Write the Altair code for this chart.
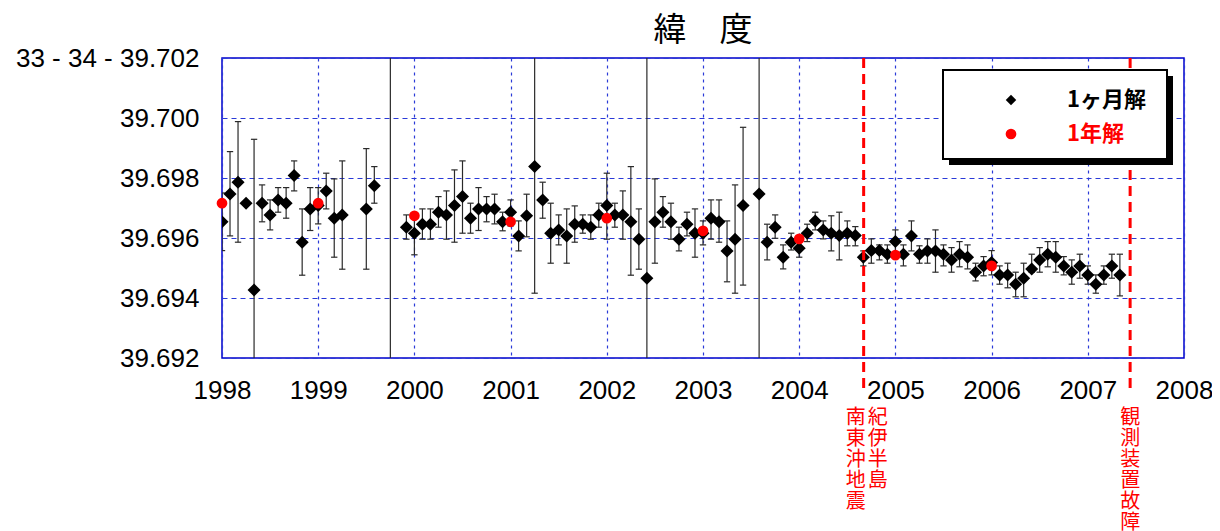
import altair as alt
import pandas as pd

# ---- monthly solutions (month index from Jan 1998) ----
month_index = [0, 1, 2, 3, 4, 5, 6, 7, 8, 9, 10, 11, 12, 13, 14, 15, 18, 19, 21,
               23, 24, 25, 26, 27, 28, 29, 30, 31, 32, 33, 34, 35, 36, 37, 38, 39,
               40, 41, 42, 43, 44, 45, 46, 47, 48, 49, 50, 51, 52, 53, 54, 55, 56,
               57, 58, 59, 60, 61, 62, 63, 64, 65, 67, 68, 69, 70, 71, 72, 73, 74,
               75, 76, 77, 78, 79, 80, 81, 82, 83, 84, 85, 86, 87, 88, 89, 90, 91,
               92, 93, 94, 95, 96, 97, 98, 99, 100, 101, 102, 103, 104, 105, 106,
               107, 108, 109, 110, 111, 112]
month_value = [39.69654, 39.69747, 39.69786, 39.69716, 39.69427, 39.69716, 39.69677,
               39.69727, 39.69716, 39.69808, 39.69586, 39.69697, 39.69708, 39.69757,
               39.69666, 39.69677, 39.69697, 39.69774, None,
               39.69636, 39.69616, 39.69646, 39.69646, 39.69686, 39.69677, 39.69708,
               39.69738, 39.69666, 39.69697, 39.69697, 39.69697, 39.69654, 39.69686,
               39.69607, 39.69674, 39.69838, 39.69727, 39.69616, 39.69627, 39.69607,
               39.69646, 39.69646, 39.69636, 39.69677, 39.69708, 39.69677, 39.69677,
               39.69654, 39.69596, 39.69466, 39.69654, 39.69686, 39.69654, 39.69596,
               39.69646, 39.69616, 39.69616, 39.69666, 39.69654, 39.69557, 39.69596,
               39.69708, 39.69747, 39.69586, 39.69636, 39.69536, 39.69586, 39.69566,
               39.69616, 39.69657, 39.69627, 39.69616, 39.69608, 39.69616, 39.69608,
               39.69536, 39.69558, 39.69558, 39.69546, 39.69588, 39.69546, 39.69607,
               39.69546, 39.69557, 39.69557, 39.69546, 39.69527, 39.69546, 39.69536,
               39.69486, 39.69507, 39.69518, 39.69477, 39.69477, 39.69446, 39.69466,
               39.69497, 39.69527, 39.69546, 39.69536, 39.69507, 39.69486, 39.69507,
               39.69477, 39.69446, 39.69477, 39.69507, 39.69477]
month_low = [39.69558, 39.69607, 39.69586, 39.69716, 39.69100, 39.69654, 39.69627,
             39.69686, 39.69666, 39.69757, 39.69476, 39.69625, 39.69647, 39.69697,
             39.69536, 39.69496, 39.69496, 39.69716, 39.68500,
             39.69596, 39.69544, 39.69596, 39.69596, 39.69636, 39.69596, 39.69586,
             39.69616, 39.69616, 39.69625, 39.69654, 39.69647, 39.69624, 39.69640,
             39.69557, 39.69604, 39.69416, 39.69666, 39.69516, 39.69577, 39.69516,
             39.69586, 39.69616, 39.69596, 39.69636, 39.69596, 39.69636, 39.69596,
             39.69476, 39.69496, 39.68500, 39.69516, 39.69636, 39.69596, 39.69557,
             39.69607, 39.69536, 39.69577, 39.69596, 39.69586, 39.69454, 39.69416,
             39.69443, 39.68500, 39.69527, 39.69599, 39.69497, 39.69560, 39.69536,
             39.69588, 39.69627, 39.69597, 39.69557, 39.69527, 39.69574, 39.69574,
             39.69507, 39.69516, 39.69527, 39.69516, 39.69546, 39.69507, 39.69557,
             39.69516, 39.69516, 39.69486, 39.69507, 39.69486, 39.69504, 39.69497,
             39.69457, 39.69474, 39.69477, 39.69446, 39.69434, 39.69404, 39.69404,
             39.69486, 39.69486, 39.69504, 39.69486, 39.69477, 39.69446, 39.69466,
             39.69446, 39.69416, 39.69446, 39.69466, 39.69407]
month_high = [39.69750, 39.69888, 39.69988, 39.69716, 39.69929, 39.69777, 39.69727,
              39.69768, 39.69768, 39.69857, 39.69697, 39.69768, 39.69768, 39.69816,
              39.69797, 39.69857, 39.69898, 39.69838, 39.71000,
              39.69677, 39.69677, 39.69697, 39.69697, 39.69738, 39.69757, 39.69827,
              39.69857, 39.69716, 39.69768, 39.69738, 39.69746, 39.69686, 39.69727,
              39.69657, 39.69746, 39.70500, 39.69786, 39.69716, 39.69677, 39.69697,
              39.69707, 39.69677, 39.69677, 39.69716, 39.69816, 39.69716, 39.69757,
              39.69838, 39.69697, 39.71000, 39.69797, 39.69738, 39.69716, 39.69636,
              39.69686, 39.69697, 39.69657, 39.69727, 39.69727, 39.69657, 39.69777,
              39.69969, 39.71000, 39.69646, 39.69677, 39.69577, 39.69616, 39.69597,
              39.69646, 39.69686, 39.69657, 39.69674, 39.69686, 39.69657, 39.69638,
              39.69557, 39.69597, 39.69577, 39.69577, 39.69627, 39.69577, 39.69657,
              39.69574, 39.69597, 39.69627, 39.69577, 39.69568, 39.69588, 39.69577,
              39.69516, 39.69538, 39.69558, 39.69507, 39.69516, 39.69486, 39.69516,
              39.69546, 39.69568, 39.69588, 39.69588, 39.69538, 39.69527, 39.69546,
              39.69507, 39.69477, 39.69507, 39.69546, 39.69546]

# ---- yearly solutions ----
year_x = [1998, 1999, 2000, 2001, 2002, 2003, 2004, 2005, 2006]
year_value = [39.69716, 39.69716, 39.69674, 39.69654, 39.69666, 39.69624,
              39.69597, 39.69543, 39.69507]

# ---- events ----
event_year = [2004.67, 2007.44]
event_label_a = ["紀", "伊", "半", "島"]
event_label_b = ["南", "東", "沖", "地", "震"]
event_label_c = ["観", "測", "装", "置", "故", "障"]

x_ticks = list(range(1998, 2009))
y_ticks = [39.692, 39.694, 39.696, 39.698, 39.700, 39.702]

months = pd.DataFrame({"t": month_index, "val": month_value,
                       "lo": month_low, "hi": month_high})
months["year"] = 1998 + months["t"] / 12.0
years = pd.DataFrame({"year": year_x, "val": year_value})
events = pd.DataFrame({"year": event_year})
one = pd.DataFrame({"a": [0]})

xs = alt.Scale(domain=[1998, 2008], nice=False, zero=False)
ys = alt.Scale(domain=[39.692, 39.702], nice=False, zero=False)

GRID = "#2a3ad8"
LABEL_FONT = "Liberation Sans"
CJK = "Noto Sans CJK JP"

x_axis = alt.Axis(values=x_ticks, format="d", title=None, labelFontSize=26,
                  labelFont=LABEL_FONT, labelColor="black", labelPadding=19,
                  ticks=False, tickSize=0, domain=False, grid=True,
                  gridColor=GRID, gridDash=[3, 4], gridWidth=1.2, labelFlush=False)
y_axis = alt.Axis(values=y_ticks, title=None, labelFontSize=26,
                  labelFont=LABEL_FONT, labelColor="black", labelPadding=23,
                  labelLimit=400,
                  ticks=False, tickSize=0, domain=False, grid=True,
                  gridColor=GRID, gridDash=[5, 4], gridWidth=1.2, labelFlush=False,
                  labelExpr="abs(datum.value - 39.702) < 0.000001 ? '33 - 34 - 39.702' : format(datum.value, '.3f')")


def X(field):
    return alt.X(field, scale=xs, axis=x_axis)


def Y(field):
    return alt.Y(field, scale=ys, axis=y_axis)


bars = alt.Chart(months).mark_rule(color="#2a2a2a", strokeWidth=1.2, clip=True).encode(
    x=X("year:Q"), y=Y("lo:Q"), y2="hi:Q",
)
caps_lo = alt.Chart(months).mark_point(shape="M-1,0L1,0", size=40, filled=False,
                                       color="#2a2a2a", strokeWidth=1.2, opacity=1,
                                       clip=True).encode(x=X("year:Q"), y=Y("lo:Q"))
caps_hi = alt.Chart(months).mark_point(shape="M-1,0L1,0", size=40, filled=False,
                                       color="#2a2a2a", strokeWidth=1.2, opacity=1,
                                       clip=True).encode(x=X("year:Q"), y=Y("hi:Q"))
diamonds = alt.Chart(months).transform_filter("isValid(datum.val)").mark_point(
    shape="diamond", filled=True, color="black", size=170, opacity=1, clip=True
).encode(x=X("year:Q"), y=Y("val:Q"))
reds = alt.Chart(years).mark_circle(color="#ff0000", size=115, opacity=1).encode(
    x=X("year:Q"), y=Y("val:Q"))
event_lines = alt.Chart(events).mark_rule(color="#ff0000", strokeWidth=3,
                                          strokeDash=[10, 6]).encode(
    x=X("year:Q"), y=alt.value(0), y2=alt.value(332))


def vtext(year, chars, dx):
    return alt.Chart(pd.DataFrame({"year": [year]})).mark_text(
        text=chars, font=CJK, fontSize=20, color="#ff0000", align="center",
        baseline="top", lineHeight=21, dx=dx
    ).encode(x=X("year:Q"), y=alt.value(350))


ann_a = vtext(event_year[0], event_label_a, 14)
ann_b = vtext(event_year[0], event_label_b, -8)
ann_c = vtext(event_year[1], event_label_c, 0)

# ---- legend box with shadow ----
shadow = alt.Chart(one).mark_rect(fill="black").encode(
    x=alt.value(727), x2=alt.value(951), y=alt.value(18), y2=alt.value(107))
box = alt.Chart(one).mark_rect(fill="white", stroke="black", strokeWidth=2).encode(
    x=alt.value(721), x2=alt.value(945), y=alt.value(12), y2=alt.value(101))
leg_d = alt.Chart(one).mark_point(shape="diamond", filled=True, color="black",
                                  size=110, opacity=1).encode(
    x=alt.value(789), y=alt.value(42))
leg_c = alt.Chart(one).mark_circle(color="#ff0000", size=115, opacity=1).encode(
    x=alt.value(789), y=alt.value(76))
leg_t1 = alt.Chart(one).mark_text(text="1ヶ月解", font=CJK, fontSize=22,
                                  fontWeight="bold", color="black", align="left",
                                  baseline="middle").encode(
    x=alt.value(845), y=alt.value(42))
leg_t2 = alt.Chart(one).mark_text(text="1年解", font=CJK, fontSize=22,
                                  fontWeight="bold", color="#ff0000", align="left",
                                  baseline="middle").encode(
    x=alt.value(845), y=alt.value(76))

chart = alt.layer(
    bars, caps_lo, caps_hi, diamonds, reds, event_lines, ann_a, ann_b, ann_c,
    shadow, box, leg_d, leg_c, leg_t1, leg_t2
).properties(
    width=962, height=300,
    title=alt.TitleParams("緯\u2003度", font=CJK, fontSize=33, fontWeight="normal",
                          color="black", anchor="middle", offset=-3),
    autosize=alt.AutoSizeParams(type="none"),
    padding={"left": 214, "top": 50, "right": 28, "bottom": 173},
).configure_view(stroke="#0000cc", strokeWidth=1.5)

chart.save("out.html", embed_options={"renderer": "svg", "actions": False})
